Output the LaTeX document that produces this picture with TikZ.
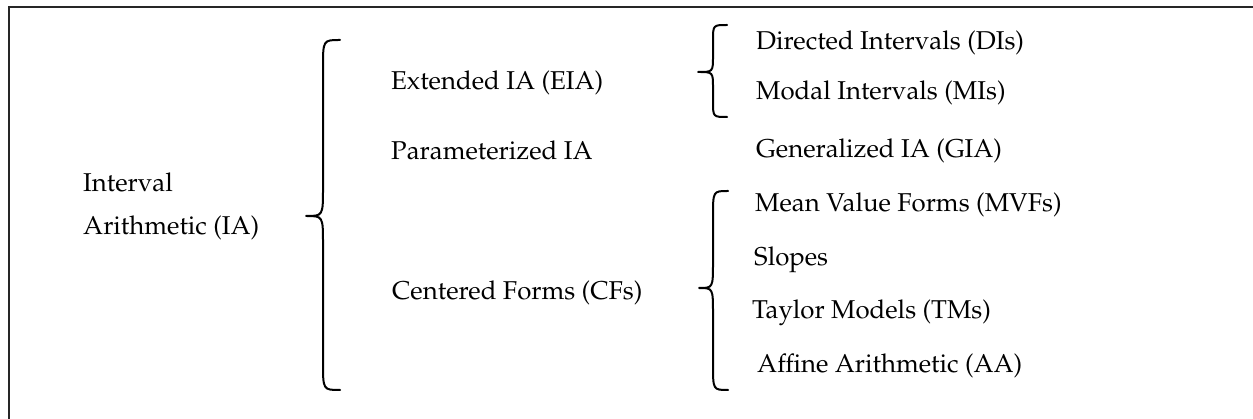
\documentclass[tikz,border=0pt]{standalone}
\usepackage[T1]{fontenc}
\usepackage{mathpazo}
\tikzset{
  lbl/.style={anchor=base west, inner sep=0pt, font=\fontsize{25.8}{30}\selectfont},
  brace/.style={line width=2pt, line cap=round, line join=round},
  frame/.style={line width=2.2pt, draw=black!85}
}
% brace: #1 tip x, #2 vertical x, #3 mid x, #4 top y, #5 mid y, #6 bottom y, #7 radius
\newcommand\mybrace[7]{%
  \draw[brace] (#1,#4) .. controls (#2,#4) .. (#2,#4+#7)
     -- (#2,#5-#7) .. controls (#2,#5) .. (#3,#5)
     .. controls (#2,#5) .. (#2,#5+#7)
     -- (#2,#6-#7) .. controls (#2,#6) .. (#1,#6);}
\begin{document}
\begin{tikzpicture}[x=1pt,y=-1pt]
\useasboundingbox (0,0) rectangle (1253,419);
\coordinate (tl) at (9,7);
\coordinate (tr) at (1254,7);
\coordinate (bl) at (9,420);
\draw[frame] (tr) -- (tl) -- (bl);
% level 0
\node[lbl] (ia1) at (83,192) {Interval};
\node[lbl] (ia2) at (83,235) {Arithmetic (IA)};
% level 1
\node[lbl] (eia) at (391,90) {Extended IA (EIA)};
\node[lbl] (pia) at (391,160) {Parameterized IA};
\node[lbl] (cf)  at (392,300) {Centered Forms (CFs)};
% level 2
\node[lbl] (di)  at (756,50) {Directed Intervals (DIs)};
\node[lbl] (mi)  at (756,100) {Modal Intervals (MIs)};
\node[lbl] (gia) at (756,158) {Generalized IA (GIA)};
\node[lbl] (mvf) at (755,212) {Mean Value Forms (MVFs)};
\node[lbl] (sl)  at (754,266) {Slopes};
\node[lbl] (tm)  at (752,319) {Taylor Models (TMs)};
\node[lbl] (aa)  at (757,373) {Affine Arithmetic (AA)};
% braces
\mybrace{340}{323}{306}{40}{216}{390}{28}
\mybrace{727}{713}{698}{25}{72}{117}{16}
\mybrace{728}{713}{699}{191}{288}{390}{26}
\end{tikzpicture}
\end{document}
